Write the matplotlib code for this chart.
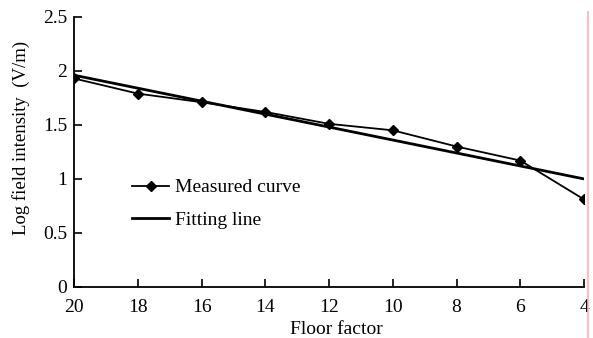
import matplotlib.pyplot as plt
import numpy as np

# data
floor = [20, 18, 16, 14, 12, 10, 8, 6, 4]
measured = [1.93, 1.79, 1.71, 1.62, 1.51, 1.45, 1.30, 1.17, 0.81]
fit_x = [20, 4]
fit_y = [1.96, 1.00]

xticks = [20, 18, 16, 14, 12, 10, 8, 6, 4]
yticks = [0, 0.5, 1, 1.5, 2, 2.5]
ytick_labels = ["0", "0.5", "1", "1.5", "2", "2.5"]


def main():
    plt.rcParams["font.family"] = ["Liberation Serif", "DejaVu Serif"]

    fig = plt.figure(figsize=(5.93, 3.38), dpi=100)
    ax = fig.add_axes([0.125, 0.151, 0.86, 0.799])

    ax.plot(floor, measured, color="black", lw=1.3, marker="D", ms=5,
            label="Measured curve")
    ax.plot(fit_x, fit_y, color="black", lw=2.0, label="Fitting line")

    ax.set_xlim(20, 4)
    ax.set_ylim(0, 2.5)
    ax.set_xticks(xticks)
    ax.set_yticks(yticks)
    ax.set_yticklabels(ytick_labels)
    ax.tick_params(direction="in", length=6, width=1.2, labelsize=14, pad=5)
    ax.tick_params(axis="x", pad=9)

    for side in ["top", "right"]:
        ax.spines[side].set_visible(False)
    for side in ["left", "bottom"]:
        ax.spines[side].set_linewidth(1.3)

    ax.set_xlabel("Floor factor", fontsize=14, va="top")
    ax.xaxis.set_label_coords(0.514, -0.125)
    ax.set_ylabel("Log field intensity  (V/m)", fontsize=13.5)
    ax.yaxis.set_label_coords(-0.086, 0.552)

    ax.legend(loc="upper left", bbox_to_anchor=(0.08, 0.465), frameon=False,
              fontsize=14, handlelength=1.9, labelspacing=0.75,
              handletextpad=0.3)

    # thin pink line at the right edge of the image
    fig.add_artist(plt.Line2D([588 / 593, 588 / 593], [0, 1 - 12 / 338],
                              color="#ffb0b0", lw=1.2))

    fig.savefig("out.png", dpi=100)


if __name__ == "__main__":
    main()
